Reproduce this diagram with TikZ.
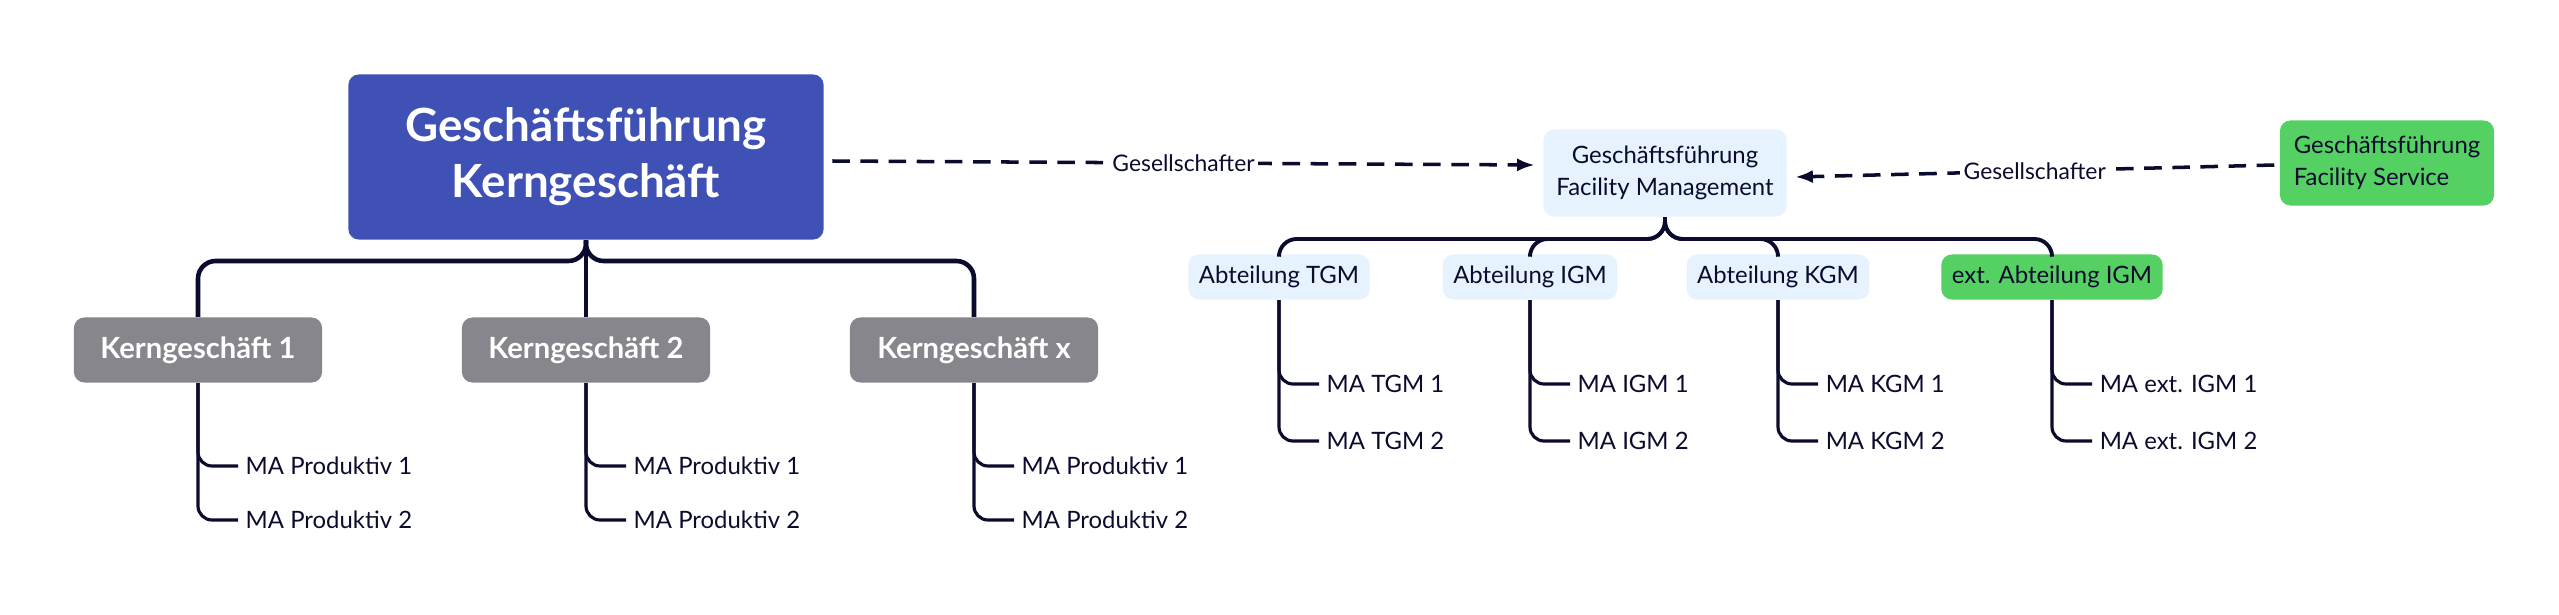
\documentclass[tikz,border=0pt]{standalone}
\usepackage{fontspec}
\setmainfont{Lato}
\usetikzlibrary{arrows.meta,positioning}
\definecolor{navy}{HTML}{0B0B2E}
\definecolor{chefblue}{HTML}{4051B5}
\definecolor{kerngray}{HTML}{86868C}
\definecolor{lightbox}{HTML}{E6F3FE}
\definecolor{fsgreen}{HTML}{55D063}
\tikzstyle{boss} = [rectangle,rounded corners=3pt,fill=chefblue,text=white,font=\fontsize{13}{16}\selectfont\bfseries,align=center,minimum width=4.75cm,minimum height=1.65cm]
\tikzstyle{kern} = [rectangle,rounded corners=3pt,fill=kerngray,text=white,font=\fontsize{8.3}{10}\selectfont\bfseries,minimum width=2.48cm,minimum height=0.65cm]
\tikzstyle{fm} = [rectangle,rounded corners=3pt,fill=lightbox,text=navy,font=\fontsize{6.8}{9}\selectfont,align=center,minimum height=0.45cm,inner sep=3pt]
\tikzstyle{leaf} = [anchor=west,text=navy,font=\fontsize{6.8}{8}\selectfont,inner sep=2pt]
\tikzstyle{tree} = [draw=navy,line width=0.9pt,rounded corners=4pt]
\tikzstyle{bar} = [draw=navy,line width=1.3pt,rounded corners=5pt]
\tikzstyle{share} = [draw=navy,line width=1pt,dash pattern=on 5pt off 3pt,-{Latex[length=5pt]}]
\tikzstyle{sharelabel} = [fill=white,text=navy,font=\fontsize{6.5}{8}\selectfont,inner sep=1pt]

\begin{document}
\begin{tikzpicture}[x=0.01cm,y=-0.01cm]
    \useasboundingbox (0,0) rectangle (2559,615);
    % left tree
    \node[boss] (gfk) at (586,157) {Geschäftsführung\\Kerngeschäft};
    \foreach \pos/\name/\txt in {198/k1/Kerngeschäft 1, 586/k2/Kerngeschäft 2, 974/kx/Kerngeschäft x}
    {
        \node[kern] (\name) at (\pos,350) {\txt};
        \path[bar] (gfk.south) -- (586,261) -| (\name.north);
        \node[leaf] (\name a) at (\pos+40,466) {MA Produktiv 1};
        \node[leaf] (\name b) at (\pos+40,520) {MA Produktiv 2};
        \path[tree] (\name.south) |- (\name a.west);
        \path[tree] (\name.south) |- (\name b.west);
    }
    % facility management
    \node[fm,minimum width=2.43cm,minimum height=0.87cm] (gffm) at (1665,173) {Geschäftsführung\\Facility Management};
    \node[fm,fill=fsgreen,align=left,minimum width=2.14cm,minimum height=0.85cm] (gffs) at (2387,163) {Geschäftsführung\\Facility Service};
    \foreach \pos/\name/\head/\txt/\col in {1279/tgm/Abteilung TGM/TGM/lightbox, 1530/igm/Abteilung IGM/IGM/lightbox,
                                            1778/kgm/Abteilung KGM/KGM/lightbox, 2052/ext/ext. Abteilung IGM/ext. IGM/fsgreen}
    {
        \node[fm,fill=\col] (\name) at (\pos,277) {\head};
        \path[bar,line width=1.1pt] (gffm.south) -- (1665,239) -| (\name.north);
        \node[leaf] (\name a) at (\pos+40,384) {MA \txt\ 1};
        \node[leaf] (\name b) at (\pos+40,441) {MA \txt\ 2};
        \path[tree] (\name.south) |- (\name a.west);
        \path[tree] (\name.south) |- (\name b.west);
    }
    % Gesellschafter
    \path (gfk.east) ++(8,4) coordinate (s1) (gffm.west) ++(-8,-8) coordinate (e1);
    \path[share] (s1) -- node[sharelabel] {Gesellschafter} (e1);
    \path (gffs.west) ++(-5,2) coordinate (s2) (gffm.east) ++(8,4) coordinate (e2);
    \path[share] (s2) -- node[sharelabel] {Gesellschafter} (e2);
\end{tikzpicture}
\end{document}
